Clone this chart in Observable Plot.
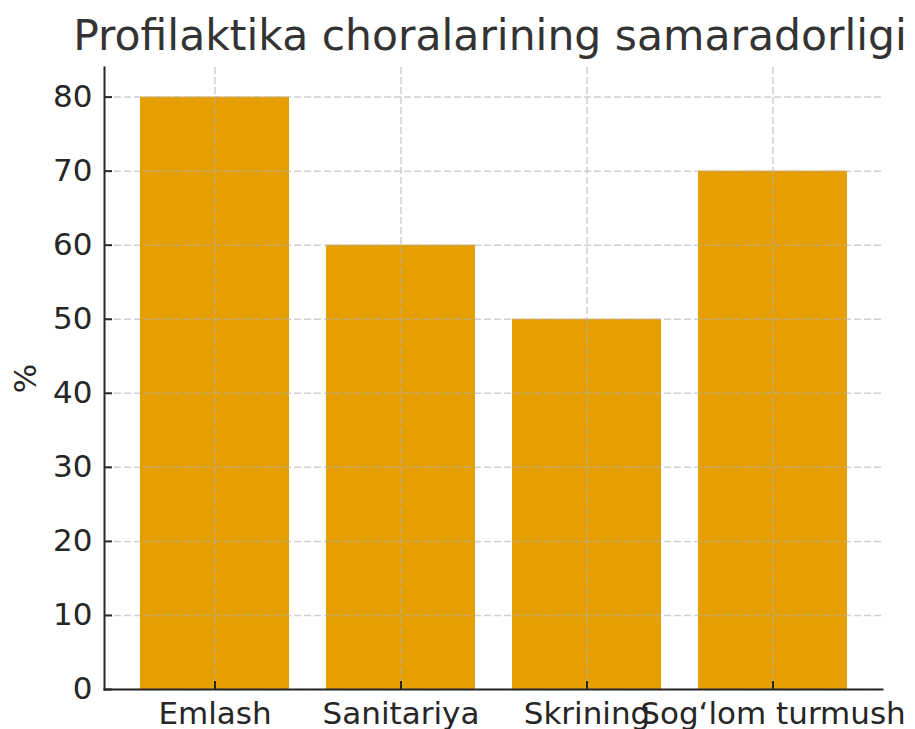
<!DOCTYPE html>
<html>
<head>
<meta charset="utf-8">
<script src="https://cdn.jsdelivr.net/npm/d3@7"></script>
<script src="https://cdn.jsdelivr.net/npm/@observablehq/plot@0.6"></script>
<style>
  html, body { margin: 0; padding: 0; background: #fff; }
  #wrap { position: relative; width: 915px; height: 729px; overflow: hidden; font-family: "DejaVu Sans", sans-serif; }
  #title { position: absolute; top: 15px; left: 490px; transform: translateX(-50%); white-space: nowrap;
           font-size: 42.5px; line-height: 42px; color: #333; }
  #chart { position: absolute; top: 60px; left: 0; }
  #chart svg { display: block; }
</style>
</head>
<body>
<div id="wrap">
  <div id="title">Profilaktika choralarining samaradorligi</div>
  <div id="chart"></div>
</div>
<script>
const categories = ["Emlash", "Sanitariya", "Skrining", "Sog‘lom turmush"];
const values = [80, 60, 50, 70];
const yTicks = [0, 10, 20, 30, 40, 50, 60, 70, 80];
const yLabel = "%";

const data = categories.map((c, i) => ({category: c, value: values[i]}));
const ink = "#262626";
const gridStyle = {stroke: "#b0b0b0", strokeOpacity: 0.6, strokeDasharray: "7,3", strokeWidth: 1.5};

const chart = Plot.plot({
  width: 915,
  height: 669,
  marginTop: 7,
  marginBottom: 40,
  marginLeft: 104,
  marginRight: 33,
  style: {fontFamily: "DejaVu Sans, sans-serif", fontSize: "31px", color: ink, background: "white"},
  x: {domain: categories, paddingInner: 0.2, paddingOuter: 0.19, align: 0.5, label: null},
  y: {domain: [0, 84], label: null},
  marks: [
    Plot.barY(data, {x: "category", y: "value", fill: "#E69F00"}),
    Plot.gridY(yTicks, gridStyle),
    Plot.gridX(categories, gridStyle),
    // inward ticks
    Plot.axisY(yTicks, {tickSize: 8, tickFormat: () => "", dx: 8, stroke: ink, strokeWidth: 2, label: null}),
    Plot.axisX(categories, {tickSize: 8, tickFormat: () => "", dy: -8, stroke: ink, strokeWidth: 2, label: null}),
    // labels
    Plot.axisY(yTicks, {tickSize: 0, tickPadding: 12, fontSize: 31, fill: ink, label: null}),
    Plot.axisX(categories, {tickSize: 0, tickPadding: 12, fontSize: 31, fill: ink, label: null}),
    Plot.text([yLabel], {frameAnchor: "left", dx: -78, rotate: -90, fontSize: 31, fill: ink, lineAnchor: "middle", textAnchor: "middle"}),
    // spines
    Plot.frame({anchor: "left", stroke: ink, strokeWidth: 2}),
    Plot.frame({anchor: "bottom", stroke: ink, strokeWidth: 2})
  ]
});
document.getElementById("chart").appendChild(chart);
</script>
</body>
</html>
